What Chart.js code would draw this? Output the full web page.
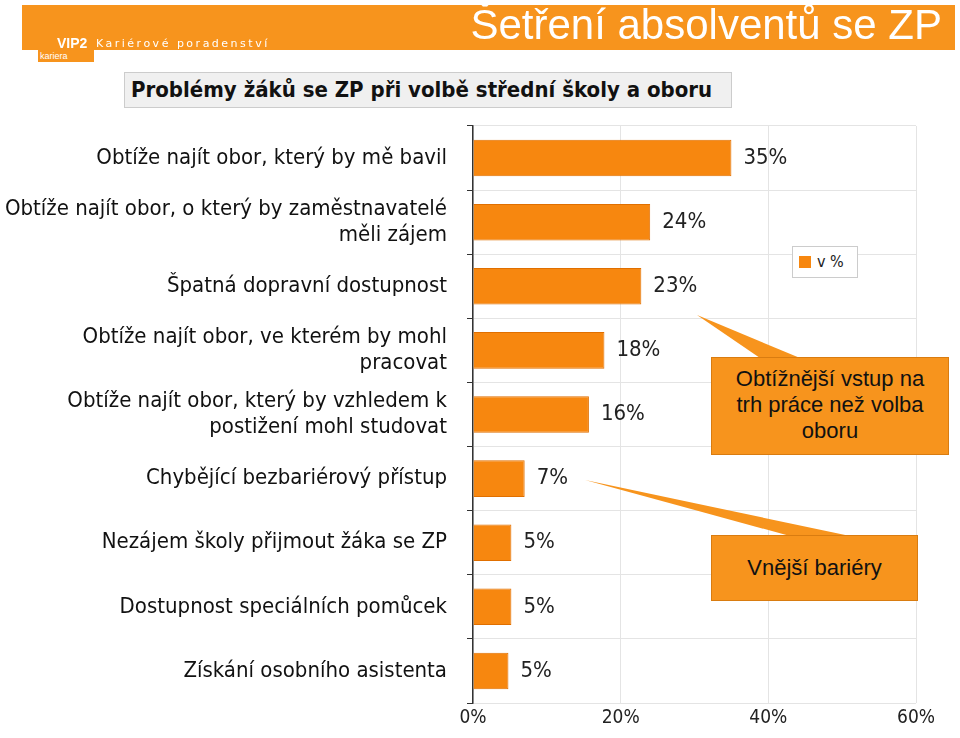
<!DOCTYPE html>
<html>
<head>
<meta charset="utf-8">
<script src="https://cdn.jsdelivr.net/npm/chart.js"></script>
<style>
  * { margin: 0; padding: 0; }
  body { width: 960px; height: 738px; position: relative; background: #fff; font-family: "Liberation Sans", Arial, sans-serif; overflow: hidden; }
  #wrap { position: absolute; left: 0; top: 0; width: 960px; height: 738px; }
  .band { position: absolute; left: 92px; top: 5px; width: 863px; height: 45px; background: #f7941d; }
  .logo { position: absolute; left: 22px; top: 5px; width: 70px; height: 45px; background: #f7941d; }
  .logo2 { position: absolute; left: 38px; top: 50px; width: 54px; height: 12px; background: #f7941d; color: #fff; font-size: 9px; line-height: 12px; padding-left: 2px; }
  .vip { position: absolute; left: 57px; top: 35px; color: #fff; font: bold 14px "Liberation Sans Narrow", sans-serif; }
  .kp { position: absolute; left: 96px; top: 37px; color: #fff; font: 11px "DejaVu Sans", sans-serif; letter-spacing: 2.5px; }
  .title { position: absolute; right: 18px; top: 1px; color: #fff; font: 42px "Liberation Sans", sans-serif; }
  .sub { position: absolute; left: 124px; top: 72px; width: 606px; height: 34px; background: #f0f0f0; border: 1px solid #ccc; font: bold 22px "DejaVu Sans Condensed", sans-serif; line-height: 34px; text-indent: 6px; color: #111; }
  .legend { position: absolute; left: 792px; top: 246px; width: 64px; height: 30px; border: 1px solid #ccc; background: #fff; font: 16px "DejaVu Sans Condensed", sans-serif; line-height: 30px; color: #222; }
  .legend span { display: inline-block; width: 12px; height: 12px; background: #f7870f; margin: 0 6px 0 6px; vertical-align: -1px; }
  .call { position: absolute; background: #f7941d; border: 1px solid #d97c10; color: #111; font: 22px "Liberation Sans", sans-serif; text-align: center; line-height: 26px; }
  svg { position: absolute; left: 0; top: 0; }
</style>
</head>
<body>
<div id="wrap"><canvas id="chart" width="960" height="738"></canvas></div>
<div class="logo"></div><div class="logo2">kariera</div>
<div class="band"></div>
<div class="vip">VIP2</div>
<div class="kp">Kariérové poradenství</div>
<div class="title">Šetření absolventů se ZP</div>
<div class="sub">Problémy žáků se ZP při volbě střední školy a oboru</div>
<div class="legend"><span></span>v %</div>
<svg width="960" height="738">
  <polygon points="697,315 760,358 800,358" fill="#f7941d"/>
  <polygon points="585,480 790,536 850,536" fill="#f7941d"/>
</svg>
<div class="call" style="left:711px;top:357px;width:238px;height:98px;padding-top:8px;box-sizing:border-box;">Obtížnější vstup na<br>trh práce než volba<br>oboru</div>
<div class="call" style="left:711px;top:535px;width:205px;height:64px;line-height:64px;">Vnější bariéry</div>
<script>
const categories = [
  'Obtíže najít obor, který by mě bavil',
  ['Obtíže najít obor, o který by zaměstnavatelé', 'měli zájem'],
  'Špatná dopravní dostupnost',
  ['Obtíže najít obor, ve kterém by mohl', 'pracovat'],
  ['Obtíže najít obor, který by vzhledem k', 'postižení mohl studovat'],
  'Chybějící bezbariérový přístup',
  'Nezájem školy přijmout žáka se ZP',
  'Dostupnost speciálních pomůcek',
  'Získání osobního asistenta'
];
const values = [35, 24, 22.8, 17.8, 15.7, 7, 5.2, 5.2, 4.8];
const valueLabels = ['35%', '24%', '23%', '18%', '16%', '7%', '5%', '5%', '5%'];
const xTicks = [0, 20, 40, 60];

const valueText = {
  id: 'valueText',
  afterDatasetsDraw(chart) {
    const ctx = chart.ctx;
    ctx.save();
    ctx.font = '22px "DejaVu Sans Condensed", sans-serif';
    ctx.fillStyle = '#222';
    ctx.textBaseline = 'middle';
    chart.getDatasetMeta(0).data.forEach((bar, i) => {
      ctx.fillText(valueLabels[i], bar.x + 12, bar.y);
    });
    ctx.restore();
  }
};

new Chart(document.getElementById('chart'), {
  type: 'bar',
  data: {
    labels: categories,
    datasets: [{
      label: 'v %',
      data: values,
      backgroundColor: '#f7870f',
      borderColor: '#e06f00',
      borderWidth: 1,
      categoryPercentage: 1,
      barPercentage: 0.57
    }]
  },
  options: {
    indexAxis: 'y',
    responsive: false,
    animation: false,
    layout: { padding: { top: 126, right: 44, left: 0, bottom: 0 } },
    plugins: { legend: { display: false }, tooltip: { enabled: false } },
    scales: {
      x: {
        min: 0, max: 60,
        afterBuildTicks(s) { s.ticks = xTicks.map(v => ({ value: v })); },
        afterFit(s) { s.height = 35; },
        ticks: { callback: v => v + '%', color: '#222', font: { size: 19, family: 'DejaVu Sans Condensed' }, padding: 4 },
        grid: { color: '#e4e4e4', drawTicks: false },
        border: { display: false }
      },
      y: {
        afterFit(s) { s.width = 473; },
        ticks: { color: '#111', font: { size: 22, family: 'DejaVu Sans Condensed' }, padding: 20 },
        grid: { offset: true, color: '#e4e4e4', tickColor: '#333', tickLength: 6 },
        border: { color: '#333', width: 1.5 }
      }
    }
  },
  plugins: [valueText]
});
</script>
</body>
</html>
